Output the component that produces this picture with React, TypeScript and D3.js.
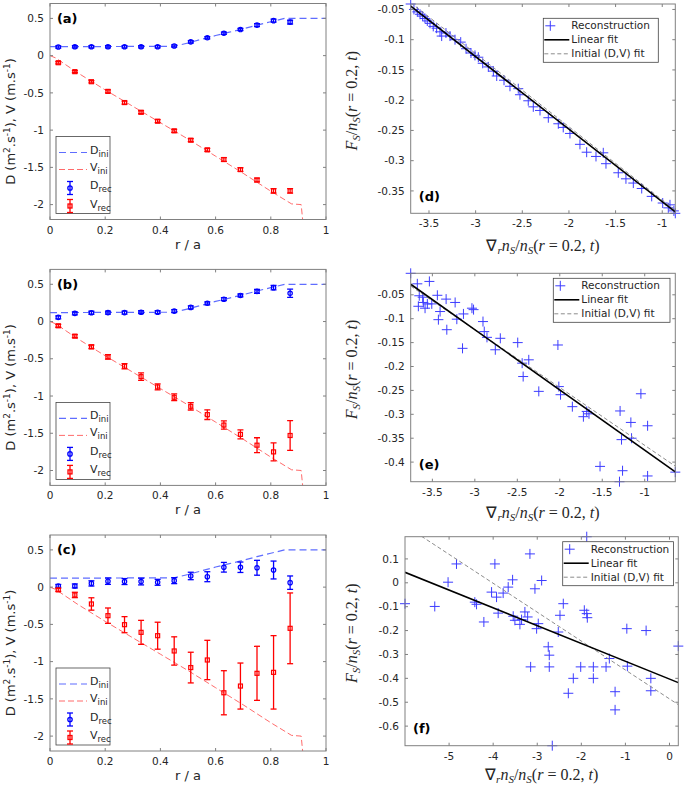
import React from 'react';
import * as d3 from 'd3';

// ---------- left column: D and V profiles against r/a ----------
const rRec = [0.03, 0.09, 0.15, 0.21, 0.27, 0.33, 0.39, 0.45, 0.51, 0.57, 0.63, 0.69, 0.75, 0.81, 0.87];

const dIniR = [0, 0.45, 0.5, 0.55, 0.6, 0.65, 0.7, 0.75, 0.8, 0.85, 1];
const dIniVal = [0.12, 0.125, 0.17, 0.22, 0.27, 0.315, 0.36, 0.41, 0.455, 0.5, 0.5];
const vIniR = [0, 0.02, 0.1, 0.2, 0.3, 0.4, 0.5, 0.6, 0.7, 0.8, 0.875, 0.91, 0.918];
const vIniVal = [0, -0.03, -0.23, -0.46, -0.68, -0.9, -1.12, -1.35, -1.58, -1.82, -1.99, -2.0, -2.3];

// (a)
const dRecA = [0.115, 0.12, 0.12, 0.12, 0.12, 0.12, 0.12, 0.13, 0.185, 0.24, 0.3, 0.35, 0.41, 0.47, 0.45];
const dErrA = [0.015, 0.015, 0.015, 0.015, 0.015, 0.015, 0.015, 0.015, 0.015, 0.015, 0.015, 0.015, 0.02, 0.02, 0.025];
const vRecA = [-0.095, -0.215, -0.35, -0.48, -0.63, -0.76, -0.88, -1.01, -1.135, -1.265, -1.395, -1.53, -1.67, -1.815, -1.815];
const vErrA = [0.015, 0.015, 0.015, 0.02, 0.02, 0.02, 0.02, 0.02, 0.02, 0.02, 0.025, 0.025, 0.025, 0.03, 0.03];

// (b)
const dRecB = [0.056, 0.11, 0.118, 0.12, 0.12, 0.125, 0.125, 0.14, 0.19, 0.245, 0.3, 0.35, 0.405, 0.455, 0.38];
const dErrB = [0.02, 0.02, 0.02, 0.02, 0.02, 0.02, 0.02, 0.02, 0.02, 0.02, 0.02, 0.02, 0.025, 0.03, 0.055];
const vRecB = [-0.057, -0.196, -0.34, -0.474, -0.6, -0.74, -0.878, -1.017, -1.138, -1.25, -1.39, -1.515, -1.66, -1.75, -1.53];
const vErrB = [0.02, 0.02, 0.025, 0.03, 0.035, 0.05, 0.04, 0.045, 0.05, 0.065, 0.055, 0.06, 0.1, 0.12, 0.2];

// (c)
const dRecC = [0.016, 0.016, 0.05, 0.08, 0.075, 0.075, 0.065, 0.087, 0.15, 0.14, 0.267, 0.267, 0.26, 0.23, 0.06];
const dErrC = [0.02, 0.027, 0.035, 0.043, 0.04, 0.045, 0.04, 0.04, 0.05, 0.067, 0.065, 0.07, 0.1, 0.12, 0.09];
const vRecC = [-0.037, -0.105, -0.226, -0.383, -0.504, -0.607, -0.652, -0.857, -1.08, -0.978, -1.418, -1.328, -1.157, -1.144, -0.553];
const vErrC = [0.02, 0.036, 0.083, 0.103, 0.108, 0.161, 0.181, 0.19, 0.206, 0.264, 0.296, 0.309, 0.363, 0.493, 0.475];

const leftXDomain = [0, 1];
const leftYDomain = [-2.2, 0.7];
const leftXTicks = [0, 0.2, 0.4, 0.6, 0.8, 1];
const leftYTicks = [0.5, 0, -0.5, -1, -1.5, -2];

// ---------- right column: flux against gradient at r = 0.2 ----------
const gradD = [-3.696, -3.661, -3.625, -3.596, -3.568, -3.543, -3.518, -3.489, -3.454, -3.418, -3.382, -3.364, -3.318, -3.275, -3.221, -3.16, -3.103, -3.05, -3.007, -2.971, -2.924, -2.864, -2.81, -2.774, -2.696, -2.632, -2.543, -2.525, -2.436, -2.382, -2.31, -2.221, -2.114, -2.061, -1.989, -1.882, -1.81, -1.71, -1.632, -1.603, -1.471, -1.389, -1.31, -1.22, -1.113, -0.995, -0.917, -0.875, -0.935, -0.86];
const fluxD = [-0.041, -0.05, -0.054, -0.058, -0.061, -0.065, -0.069, -0.073, -0.078, -0.081, -0.087, -0.094, -0.089, -0.094, -0.1, -0.104, -0.115, -0.122, -0.126, -0.129, -0.139, -0.145, -0.152, -0.16, -0.167, -0.177, -0.181, -0.191, -0.201, -0.211, -0.217, -0.229, -0.239, -0.245, -0.255, -0.273, -0.286, -0.293, -0.287, -0.305, -0.32, -0.33, -0.337, -0.346, -0.359, -0.37, -0.373, -0.383, -0.378, -0.387];

const gradE = [-3.755, -3.677, -3.535, -3.654, -3.614, -3.665, -3.606, -3.559, -3.586, -3.507, -3.441, -3.338, -3.409, -3.429, -3.33, -3.232, -3.212, -3.134, -3.145, -3.034, -3.015, -2.904, -2.889, -2.857, -2.759, -2.7, -2.495, -2.443, -2.431, -2.365, -2.247, -2.022, -2.011, -1.991, -1.852, -1.722, -1.683, -1.656, -1.526, -1.29, -1.273, -1.261, -1.297, -1.163, -1.155, -1.045, -0.966, -0.966, -0.64];
const fluxE = [-0.005, -0.027, -0.022, -0.052, -0.055, -0.074, -0.066, -0.069, -0.078, -0.069, -0.051, -0.059, -0.085, -0.102, -0.123, -0.066, -0.101, -0.09, -0.162, -0.078, -0.081, -0.106, -0.127, -0.139, -0.165, -0.141, -0.15, -0.193, -0.221, -0.186, -0.252, -0.155, -0.242, -0.259, -0.284, -0.305, -0.294, -0.299, -0.409, -0.293, -0.353, -0.418, -0.441, -0.317, -0.35, -0.257, -0.324, -0.429, -0.421];

const gradF = [-6.0, -5.325, -5.023, -4.832, -4.416, -4.377, -4.211, -4.036, -3.961, -3.923, -3.886, -3.773, -3.659, -3.559, -3.545, -3.507, -3.393, -3.355, -3.28, -3.218, -3.166, -3.15, -3.052, -3.014, -2.977, -2.9, -2.75, -2.727, -2.727, -2.659, -2.523, -2.484, -2.409, -2.295, -2.182, -2.014, -1.932, -1.877, -1.864, -1.877, -1.727, -1.727, -1.439, -1.364, -1.234, -1.234, -0.968, -0.955, -0.53, -0.423, -0.423, 0.2];
const fluxF = [-0.0875, -0.099, 0.0025, 0.079, -0.081, -0.09, -0.164, -0.039, 0.079, -0.06, -0.127, -0.043, -0.018, 0.0125, -0.14, -0.157, -0.174, -0.154, -0.122, -0.143, 0.121, -0.352, -0.025, -0.192, -0.171, 0.0096, -0.268, -0.303, -0.352, -0.682, -0.206, -0.136, -0.0875, -0.4625, -0.4, -0.352, -0.115, -0.129, -0.146, 0.193, -0.352, -0.4, -0.352, -0.317, -0.456, -0.532, -0.192, -0.349, -0.2, -0.4, -0.452, -0.265];

// [slope, intercept]
const fitD = [-0.12, -0.488];
const fitE = [-0.126, -0.501];
const fitF = [-0.0745, -0.403];
const fitIni = [-0.121, -0.486];

const xDomD = [-3.696, -0.86];
const yDomD = [-0.387, -0.041];
const xDomE = [-3.755, -0.64];
const yDomE = [-0.441, -0.005];
const xDomF = [-6.0, 0.2];
const yDomF = [-0.682, 0.193];
const xTicksDE = [-3.5, -3, -2.5, -2, -1.5, -1];
const yTicksD = [-0.35, -0.3, -0.25, -0.2, -0.15, -0.1, -0.05];
const yTicksE = [-0.4, -0.35, -0.3, -0.25, -0.2, -0.15, -0.1, -0.05];
const xTicksF = [-5, -4, -3, -2, -1, 0];
const yTicksF = [-0.6, -0.5, -0.4, -0.3, -0.2, -0.1, 0, 0.1];

const SANS = '"DejaVu Sans", sans-serif';
const SERIF = '"Liberation Serif", serif';
const AXIS = '#808080';
const TXT = '#262626';
const TICK = 3;

type Box = { l: number; r: number; t: number; b: number };

const fmt = (v: number) => String(Math.round(v * 100) / 100);

function Frame({ box, x, y, xt, yt }: any) {
  return (
    <g>
      <rect x={box.l} y={box.t} width={box.r - box.l} height={box.b - box.t} fill="none" stroke={AXIS} strokeWidth={1} />
      {xt.map((v: number) => (
        <g key={'x' + v}>
          <line x1={x(v)} x2={x(v)} y1={box.b} y2={box.b - TICK} stroke={AXIS} />
          <line x1={x(v)} x2={x(v)} y1={box.t} y2={box.t + TICK} stroke={AXIS} />
          <text x={x(v)} y={box.b + 14} textAnchor="middle" fontSize={10.5} fontFamily={SANS} fill={TXT}>{fmt(v)}</text>
        </g>
      ))}
      {yt.map((v: number) => (
        <g key={'y' + v}>
          <line x1={box.l} x2={box.l + TICK} y1={y(v)} y2={y(v)} stroke={AXIS} />
          <line x1={box.r} x2={box.r - TICK} y1={y(v)} y2={y(v)} stroke={AXIS} />
          <text x={box.l - 6} y={y(v)} dy="0.35em" textAnchor="end" fontSize={10.5} fontFamily={SANS} fill={TXT}>{fmt(v)}</text>
        </g>
      ))}
    </g>
  );
}

function LeftPanel({ box, tag, dRec, dErr, vRec, vErr, id }: any) {
  const x = d3.scaleLinear().domain(leftXDomain).range([box.l, box.r]);
  const y = d3.scaleLinear().domain(leftYDomain).range([box.b, box.t]);
  const path = (rs: number[], vs: number[]) =>
    d3.line<number>().x((r) => x(r)).y((_, i) => y(vs[i]))(rs) || '';
  const lg = { x: box.l + 6, y: box.b - 83, w: 54, h: 77 };
  const cy = (box.t + box.b) / 2 + 10;
  const errbar = (cx: number, v: number, e: number, col: string) => (
    <g stroke={col} strokeWidth={1.3}>
      <line x1={cx} x2={cx} y1={y(v - e)} y2={y(v + e)} />
      <line x1={cx - 3} x2={cx + 3} y1={y(v - e)} y2={y(v - e)} />
      <line x1={cx - 3} x2={cx + 3} y1={y(v + e)} y2={y(v + e)} />
    </g>
  );
  return (
    <g>
      <clipPath id={id}>
        <rect x={box.l} y={box.t} width={box.r - box.l} height={box.b - box.t} />
      </clipPath>
      <rect x={box.l} y={box.t} width={box.r - box.l} height={box.b - box.t} fill="#fff" />
      <g clipPath={`url(#${id})`} fill="none">
        <path d={path(dIniR, dIniVal)} stroke="#5f6dff" strokeWidth={1.2} strokeDasharray="7,4" />
        <path d={path(vIniR, vIniVal)} stroke="#ff5a5a" strokeWidth={0.9} strokeDasharray="6,3" />
        {rRec.map((r, i) => (
          <g key={'d' + i}>
            {errbar(x(r), dRec[i], dErr[i], '#0000ff')}
            <circle cx={x(r)} cy={y(dRec[i])} r={2.2} stroke="#0000ff" strokeWidth={1.2} />
          </g>
        ))}
        {rRec.map((r, i) => (
          <g key={'v' + i}>
            {errbar(x(r), vRec[i], vErr[i], '#ff0000')}
            <rect x={x(r) - 2} y={y(vRec[i]) - 2} width={4} height={4} stroke="#ff0000" strokeWidth={1.2} />
          </g>
        ))}
      </g>
      <Frame box={box} x={x} y={y} xt={leftXTicks} yt={leftYTicks} />
      <text x={x(0.025)} y={y(0.5)} dy="0.35em" fontSize={13} fontWeight="bold" fontFamily={SANS} fill="#000">{tag}</text>
      <text x={(box.l + box.r) / 2} y={box.b + 29} textAnchor="middle" fontSize={13} fontFamily={SANS} fill={TXT}>r / a</text>
      <text transform={`translate(15,${cy}) rotate(-90)`} textAnchor="middle" fontSize={13} fontFamily={SANS} fill={TXT}>
        D (m<tspan dy={-5} fontSize={9}>2</tspan><tspan dy={5}>.s</tspan><tspan dy={-5} fontSize={9}>-1</tspan><tspan dy={5}>), V (m.s</tspan><tspan dy={-5} fontSize={9}>-1</tspan><tspan dy={5}>)</tspan>
      </text>
      <g>
        <rect x={lg.x} y={lg.y} width={lg.w} height={lg.h} fill="#fff" stroke="#444" strokeWidth={0.8} />
        <line x1={lg.x + 3} x2={lg.x + 31} y1={lg.y + 16} y2={lg.y + 16} stroke="#5f6dff" strokeWidth={1.2} strokeDasharray="7,4" />
        <line x1={lg.x + 3} x2={lg.x + 31} y1={lg.y + 33} y2={lg.y + 33} stroke="#ff5a5a" strokeWidth={0.9} strokeDasharray="6,3" />
        <g stroke="#0000ff" strokeWidth={1.3} fill="none">
          <line x1={lg.x + 14} x2={lg.x + 14} y1={lg.y + 45} y2={lg.y + 58} />
          <line x1={lg.x + 11} x2={lg.x + 17} y1={lg.y + 45} y2={lg.y + 45} />
          <line x1={lg.x + 11} x2={lg.x + 17} y1={lg.y + 58} y2={lg.y + 58} />
          <circle cx={lg.x + 14} cy={lg.y + 51.5} r={2.2} />
        </g>
        <g stroke="#ff0000" strokeWidth={1.3} fill="none">
          <line x1={lg.x + 14} x2={lg.x + 14} y1={lg.y + 63} y2={lg.y + 76} />
          <line x1={lg.x + 11} x2={lg.x + 17} y1={lg.y + 63} y2={lg.y + 63} />
          <line x1={lg.x + 11} x2={lg.x + 17} y1={lg.y + 76} y2={lg.y + 76} />
          <rect x={lg.x + 12} y={lg.y + 67.5} width={4} height={4} />
        </g>
        {[['D', 'ini', 15], ['V', 'ini', 32], ['D', 'rec', 50.5], ['V', 'rec', 69]].map(([a, s, dy]: any) => (
          <text key={a + s} x={lg.x + 34} y={lg.y + dy + 2} fontSize={11} fontFamily={SANS} fill={TXT}>
            {a}<tspan dy={3} fontSize={8.5}>{s}</tspan>
          </text>
        ))}
      </g>
    </g>
  );
}

function MathY() {
  return (
    <>
      <tspan fontStyle="italic">F</tspan><tspan fontStyle="italic" fontSize={11} dy={3}>S</tspan>
      <tspan dy={-3}>/</tspan><tspan fontStyle="italic">n</tspan><tspan fontStyle="italic" fontSize={11} dy={3}>S</tspan>
      <tspan dy={-3}>(</tspan><tspan fontStyle="italic">r</tspan><tspan> = 0.2, </tspan><tspan fontStyle="italic">t</tspan><tspan>)</tspan>
    </>
  );
}

function MathX() {
  return (
    <>
      <tspan>∇</tspan><tspan fontStyle="italic" fontSize={11} dy={3}>r</tspan>
      <tspan dy={-3} fontStyle="italic">n</tspan><tspan fontStyle="italic" fontSize={11} dy={3}>S</tspan>
      <tspan dy={-3}>/</tspan><tspan fontStyle="italic">n</tspan><tspan fontStyle="italic" fontSize={11} dy={3}>S</tspan>
      <tspan dy={-3}>(</tspan><tspan fontStyle="italic">r</tspan><tspan> = 0.2, </tspan><tspan fontStyle="italic">t</tspan><tspan>)</tspan>
    </>
  );
}

function Plus({ cx, cy }: { cx: number; cy: number }) {
  return (
    <g stroke="#3c3cff" strokeWidth={1}>
      <line x1={cx - 5} x2={cx + 5} y1={cy} y2={cy} />
      <line x1={cx} x2={cx} y1={cy - 5} y2={cy + 5} />
    </g>
  );
}

function RightPanel({ box, tag, gx, fy, fit, xDom, yDom, xt, yt, leg, xlab, id }: any) {
  const x = d3.scaleLinear().domain(xDom).range([box.l, box.r]);
  const y = d3.scaleLinear().domain(yDom).range([box.b, box.t]);
  const fitLine = (f: number[]) =>
    d3.line<number>().x((g) => x(g)).y((g) => y(f[0] * g + f[1]))(xDom) || '';
  return (
    <g>
      <clipPath id={id}>
        <rect x={box.l} y={box.t} width={box.r - box.l} height={box.b - box.t} />
      </clipPath>
      <rect x={box.l} y={box.t} width={box.r - box.l} height={box.b - box.t} fill="#fff" />
      <g>
        {gx.map((g: number, i: number) => (
          <Plus key={i} cx={x(g)} cy={y(fy[i])} />
        ))}
      </g>
      <g clipPath={`url(#${id})`} fill="none">
        <path d={fitLine(fitIni)} stroke="#8c8c8c" strokeWidth={1} strokeDasharray="4,2.5" />
        <path d={fitLine(fit)} stroke="#000" strokeWidth={1.6} />
      </g>
      <Frame box={box} x={x} y={y} xt={xt} yt={yt} />
      <text x={box.l + 8} y={box.b - 17} dy="0.35em" fontSize={13} fontWeight="bold" fontFamily={SANS} fill="#000">{tag}</text>
      <text x={(box.l + box.r) / 2} y={box.b + xlab} textAnchor="middle" fontSize={16} fontFamily={SERIF} fill={TXT}>
        <MathX />
      </text>
      <text transform={`translate(357,${(box.t + box.b) / 2 - 8}) rotate(-90)`} textAnchor="middle" fontSize={16} fontFamily={SERIF} fill={TXT}>
        <MathY />
      </text>
      <g>
        <rect x={leg.x} y={leg.y} width={leg.w} height={44} fill="#fff" stroke="#444" strokeWidth={0.8} />
        <Plus cx={leg.x + 7} cy={leg.y + 7.5} />
        <line x1={leg.x + 1} x2={leg.x + 26} y1={leg.y + 21.5} y2={leg.y + 21.5} stroke="#000" strokeWidth={1.6} />
        <line x1={leg.x + 1} x2={leg.x + 26} y1={leg.y + 35.5} y2={leg.y + 35.5} stroke="#8c8c8c" strokeWidth={1} strokeDasharray="4,2.5" />
        {['Reconstruction', 'Linear fit', 'Initial (D,V) fit'].map((s, i) => (
          <text key={s} x={leg.x + 28} y={leg.y + 7.5 + 14 * i} dy="0.35em" fontSize={10.5} fontFamily={SANS} fill={TXT}>{s}</text>
        ))}
      </g>
    </g>
  );
}

export default function App() {
  const boxA: Box = { l: 50, r: 326, t: 3.5, b: 219.5 };
  const boxB: Box = { l: 50, r: 326, t: 269.4, b: 485.4 };
  const boxC: Box = { l: 50, r: 326, t: 535, b: 751 };
  const boxD: Box = { l: 410.7, r: 675.3, t: 4, b: 213.3 };
  const boxE: Box = { l: 410.7, r: 675.3, t: 273.3, b: 481.7 };
  const boxF: Box = { l: 405, r: 678.3, t: 536.7, b: 745.7 };
  return (
    <svg width={685} height={787} style={{ position: 'absolute', left: 0, top: 0, background: '#fff' }}>
      <rect width={685} height={787} fill="#fff" />
      <LeftPanel id="ca" box={boxA} tag="(a)" dRec={dRecA} dErr={dErrA} vRec={vRecA} vErr={vErrA} />
      <LeftPanel id="cb" box={boxB} tag="(b)" dRec={dRecB} dErr={dErrB} vRec={vRecB} vErr={vErrB} />
      <LeftPanel id="cc" box={boxC} tag="(c)" dRec={dRecC} dErr={dErrC} vRec={vRecC} vErr={vErrC} />
      <RightPanel id="cd" box={boxD} tag="(d)" xlab={38} gx={gradD} fy={fluxD} fit={fitD} xDom={xDomD} yDom={yDomD} xt={xTicksDE} yt={yTicksD} leg={{ x: 543.3, y: 18.3, w: 115 }} />
      <RightPanel id="ce" box={boxE} tag="(e)" xlab={36} gx={gradE} fy={fluxE} fit={fitE} xDom={xDomE} yDom={yDomE} xt={xTicksDE} yt={yTicksE} leg={{ x: 553.3, y: 278.3, w: 116.7 }} />
      <RightPanel id="cf" box={boxF} tag="(f)" xlab={34} gx={gradF} fy={fluxF} fit={fitF} xDom={xDomF} yDom={yDomF} xt={xTicksF} yt={yTicksF} leg={{ x: 562.7, y: 541.7, w: 110.7 }} />
    </svg>
  );
}
